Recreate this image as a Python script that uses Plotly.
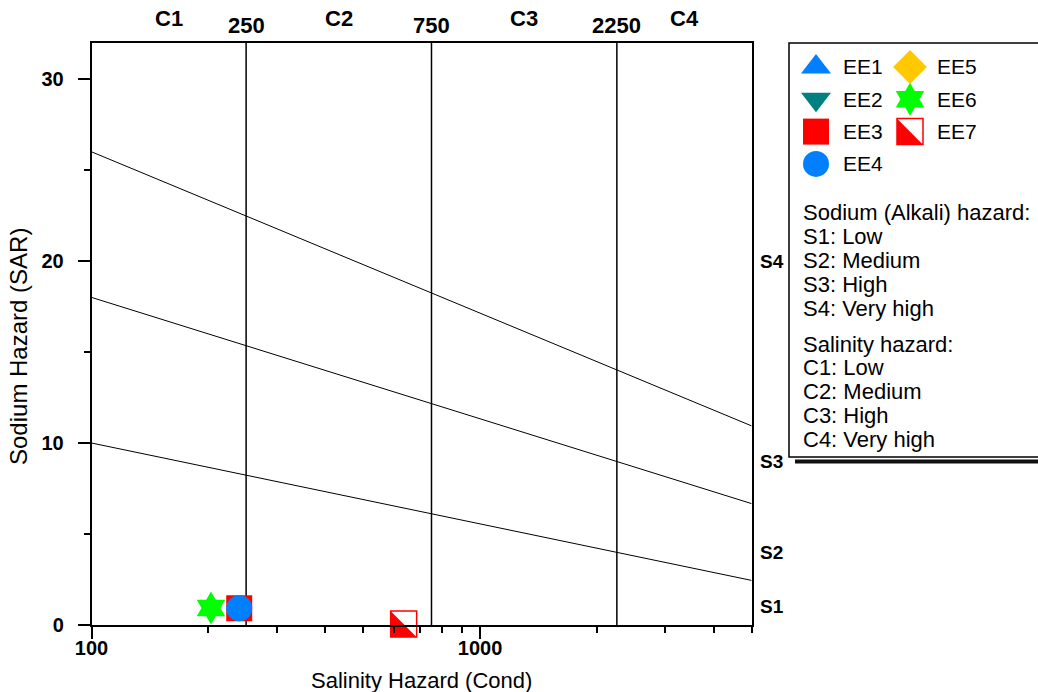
import math
import plotly.graph_objects as go

W, H = 1038, 692

# ---------------- data ----------------
SAMPLES = ["EE1", "EE2", "EE3", "EE4", "EE5", "EE6", "EE7"]
EC = [None, None, 240, 240, None, 203, 636]          # Salinity hazard (conductivity)
SAR = [None, None, 0.92, 0.92, None, 0.93, 0.05]     # Sodium hazard (SAR)
SYMBOLS = ["triangle-up", "triangle-down", "square", "circle", "diamond", "hexagram", "half-square"]
COLORS = ["#0080FF", "#008080", "#FF0000", "#0080FF", "#FFC800", "#00FF00", "#FF0000"]

EC_RANGE = [100, 5000]
SAR_MAX = 32
C_BOUNDS = [250, 750, 2250]
C_LABELS = ["C1", "C2", "C3", "C4"]
S_LINE_LEFT = [10.0, 18.0, 26.0]     # SAR of S1/S2, S2/S3, S3/S4 boundaries at EC = 100
S_LINE_RIGHT = [2.45, 6.67, 10.94]   # same boundaries at EC = 5000
S_LABELS = ["S1", "S2", "S3", "S4"]
S_LABEL_SAR = [1, 4, 9, 20]

X_MAJOR = [100, 1000]
X_MINOR = [200, 300, 400, 500, 600, 700, 800, 900, 2000, 3000, 4000, 5000]
Y_MAJOR = [0, 10, 20, 30]
Y_MINOR = [5, 15, 25]

SODIUM_TEXT = ["Sodium (Alkali) hazard:", "S1: Low", "S2: Medium", "S3: High", "S4: Very high"]
SALINITY_TEXT = ["Salinity hazard:", "C1: Low", "C2: Medium", "C3: High", "C4: Very high"]

X_TITLE = "Salinity Hazard (Cond)"
Y_TITLE = "Sodium Hazard (SAR)"

# ---------------- styling / layout constants ----------------
FONT = "Liberation Sans, Arial, sans-serif"
PX_L, PX_R, PX_T, PX_B = 91.5, 751.6, 42.6, 625.0   # plot frame in pixels
LEG_X0, LEG_Y0, LEG_Y1 = 789, 43, 457                # legend box in pixels
MS = 26


def fx(px):
    return px / W


def fy(py):
    return (H - py) / H


fig = go.Figure()

# boundary lines of salinity classes
for b in C_BOUNDS:
    fig.add_trace(go.Scatter(x=[b, b], y=[0, SAR_MAX], mode="lines",
                             line=dict(color="black", width=1.5), hoverinfo="skip"))
# boundary lines of sodium classes
for lft, rgt in zip(S_LINE_LEFT, S_LINE_RIGHT):
    fig.add_trace(go.Scatter(x=EC_RANGE, y=[lft, rgt], mode="lines",
                             line=dict(color="black", width=1), hoverinfo="skip"))


def add_marker(xs, ys, symbol, color, xaxis="x", yaxis="y", name=None):
    common = dict(x=xs, y=ys, mode="markers", xaxis=xaxis, yaxis=yaxis, cliponaxis=False)
    if symbol == "half-square":
        # square, lower-left half filled, upper-right half white, coloured border
        fig.add_trace(go.Scatter(**common, name=name,
                                 marker=dict(symbol="square", size=MS, color=color, line=dict(width=0))))
        fig.add_trace(go.Scatter(**common, hoverinfo="skip",
                                 marker=dict(symbol="triangle-down", size=32, angle=225, standoff=8,
                                             color="white", line=dict(width=0))))
        fig.add_trace(go.Scatter(**common, hoverinfo="skip",
                                 marker=dict(symbol="square-open", size=MS, color=color,
                                             line=dict(color=color, width=1.5))))
    else:
        size = 25 if symbol == "hexagram" else MS
        fig.add_trace(go.Scatter(**common, name=name,
                                 marker=dict(symbol=symbol, size=size, color=color, line=dict(width=0))))


# samples
for name, x, y, sym, col in zip(SAMPLES, EC, SAR, SYMBOLS, COLORS):
    add_marker([x], [y], sym, col, name=name)

# legend keys (on a hidden helper axis in pixel units)
for i, (name, sym, col) in enumerate(zip(SAMPLES, SYMBOLS, COLORS)):
    col_i, row_i = divmod(i, 4)
    kx = 27 + 94 * col_i
    ky = 24 + 32.3 * row_i
    add_marker([kx], [ky], sym, col, xaxis="x2", yaxis="y2")
    fig.add_annotation(x=kx + 25, y=ky, xref="x2", yref="y2", text=name, showarrow=False,
                       xanchor="left", yanchor="middle",
                       font=dict(family=FONT, size=21, color="black"))

annotations = []
bold22 = dict(family=FONT, size=22, color="black", weight="bold")
# top labels
for b in C_BOUNDS:
    annotations.append(dict(x=math.log10(b), y=fy(25), xref="x", yref="paper", text=str(b),
                            showarrow=False, xanchor="center", yanchor="middle", font=bold22))
edges = [EC_RANGE[0]] + C_BOUNDS + [EC_RANGE[1]]
for lab, a, b in zip(C_LABELS, edges[:-1], edges[1:]):
    annotations.append(dict(x=(math.log10(a) + math.log10(b)) / 2, y=fy(18), xref="x", yref="paper",
                            text=lab, showarrow=False, xanchor="center", yanchor="middle", font=bold22))
# right labels
for lab, s in zip(S_LABELS, S_LABEL_SAR):
    annotations.append(dict(x=fx(758), y=s, xref="paper", yref="y", text=lab, showarrow=False,
                            xanchor="left", yanchor="middle",
                            font=dict(family=FONT, size=19, color="black", weight="bold")))
# legend text lines
for j, t in enumerate(SODIUM_TEXT):
    annotations.append(dict(x=fx(801), y=fy(213 + 23.75 * j), xref="paper", yref="paper", text=t,
                            showarrow=False, xanchor="left", yanchor="middle",
                            font=dict(family=FONT, size=22, color="black")))
for j, t in enumerate(SALINITY_TEXT):
    annotations.append(dict(x=fx(801), y=fy(344 + 23.75 * j), xref="paper", yref="paper", text=t,
                            showarrow=False, xanchor="left", yanchor="middle",
                            font=dict(family=FONT, size=22, color="black")))
# axis titles
annotations.append(dict(x=fx((PX_L + PX_R) / 2), y=fy(680), xref="paper", yref="paper", text=X_TITLE,
                        showarrow=False, xanchor="center", yanchor="middle",
                        font=dict(family=FONT, size=22, color="black")))
annotations.append(dict(x=fx(19), y=fy(347), xref="paper", yref="paper", text=Y_TITLE, textangle=-90,
                        showarrow=False, xanchor="center", yanchor="middle",
                        font=dict(family=FONT, size=24, color="black")))
for a in annotations:
    fig.add_annotation(**a)

# legend box with shadow
fig.add_shape(type="rect", xref="paper", yref="paper", layer="below",
              x0=fx(LEG_X0 + 6), x1=fx(W + 20), y0=fy(LEG_Y0 + 6), y1=fy(LEG_Y1 + 6.5),
              fillcolor="#111111", line=dict(width=0))
fig.add_shape(type="rect", xref="paper", yref="paper", layer="below",
              x0=fx(LEG_X0), x1=fx(W + 10), y0=fy(LEG_Y0), y1=fy(LEG_Y1 + 2.5),
              fillcolor="white", line=dict(width=0))
fig.add_shape(type="rect", xref="paper", yref="paper", layer="below",
              x0=fx(LEG_X0), x1=fx(W + 10), y0=fy(LEG_Y0), y1=fy(LEG_Y1),
              fillcolor="white", line=dict(color="black", width=1.5))

tick_font = dict(family=FONT, size=20, color="black", weight="bold")
fig.update_layout(
    width=W, height=H, margin=dict(l=0, r=0, t=0, b=0, autoexpand=False),
    paper_bgcolor="white", plot_bgcolor="rgba(0,0,0,0)", showlegend=False,
    xaxis=dict(type="log", range=[math.log10(EC_RANGE[0]), math.log10(EC_RANGE[1])],
               domain=[fx(PX_L), fx(PX_R)], anchor="y", automargin=False,
               showline=True, mirror=True, linecolor="black", linewidth=1.5,
               showgrid=False, zeroline=False,
               tickmode="array", tickvals=X_MAJOR, ticktext=[str(v) for v in X_MAJOR],
               ticks="outside", ticklen=12, tickwidth=1.5, tickcolor="black", tickfont=tick_font,
               ticklabelstandoff=-8,
               minor=dict(tickmode="array", tickvals=X_MINOR, ticks="outside", ticklen=6,
                          tickwidth=1.5, tickcolor="black", showgrid=False)),
    yaxis=dict(range=[0, SAR_MAX], domain=[fy(PX_B), fy(PX_T)], anchor="x", automargin=False,
               showline=True, mirror=True, linecolor="black", linewidth=1.5,
               showgrid=False, zeroline=False,
               tickmode="array", tickvals=Y_MAJOR, ticktext=[str(v) for v in Y_MAJOR],
               ticks="outside", ticklen=12, tickwidth=1.5, tickcolor="black", tickfont=tick_font,
               ticklabelstandoff=10,
               minor=dict(tickmode="array", tickvals=Y_MINOR, ticks="outside", ticklen=6,
                          tickwidth=1.5, tickcolor="black", showgrid=False)),
    xaxis2=dict(domain=[fx(LEG_X0), 1], range=[0, W - LEG_X0], visible=False, anchor="y2",
                fixedrange=True, automargin=False),
    yaxis2=dict(domain=[fy(LEG_Y1), fy(LEG_Y0)], range=[LEG_Y1 - LEG_Y0, 0], visible=False,
                anchor="x2", fixedrange=True, automargin=False),
)

fig.write_html("out.html", config={"displayModeBar": False},
               post_script="document.body.style.margin='0px';")
